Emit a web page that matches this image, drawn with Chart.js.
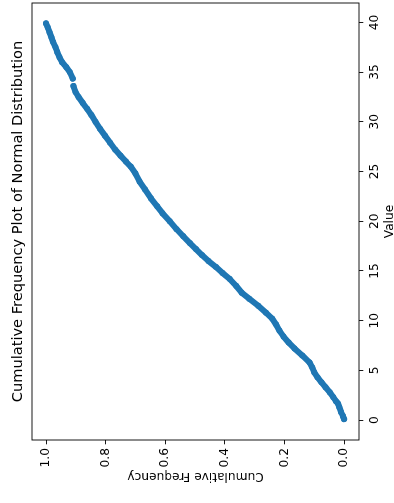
<!DOCTYPE html>
<html>
<head>
<meta charset="utf-8">
<script src="https://cdn.jsdelivr.net/npm/chart.js@4.4.0/dist/chart.umd.min.js"></script>
<style>
  html, body { margin: 0; padding: 0; background: #fff; overflow: hidden; }
  body { width: 394px; height: 503px; position: relative; }
  /* the matplotlib figure was rotated a quarter turn counter-clockwise */
  #wrap {
    position: absolute; left: 0; top: 0;
    width: 503px; height: 394px;
    transform-origin: 0 0;
    transform: translateY(503px) rotate(-90deg);
  }
</style>
</head>
<body>
<div id="wrap"><canvas id="chart" width="503" height="394"></canvas></div>
<script>
// sorted sample values and their cumulative frequency (null = gap in the run)
const VALUES = [
  0.1, 0.4, 0.8, 1.3, 1.7, 1.9, 2.3, 2.8, 3.3, 3.8, 4.3, 4.8, 5.3, 5.8,
  6.5, 7.2, 7.8, 8.4, 9.0, 9.6, 10.2, 10.8, 11.5, 12.2, 12.8, 13.5, 14.2,
  14.8, 15.4, 16.0, 16.6, 17.2, 17.8, 18.5, 19.2, 20.0, 20.8, 21.5, 22.3,
  23.2, 24.0, 24.8, 25.5, 26.0, 26.6, 27.2, 27.9, 28.6, 29.3, 30.0, 30.7,
  31.3, 31.9, 32.5, 33.0, 33.6, null,
  34.35, 35.0, 35.5, 36.0, 36.5, 37.0, 37.5, 38.0, 38.5, 39.0, 39.5, 39.9
];
const CUM_FREQ = [
  0.000, 0.004, 0.010, 0.016, 0.021, 0.027, 0.036, 0.048, 0.062, 0.076, 0.089, 0.100, 0.107, 0.116,
  0.140, 0.166, 0.186, 0.203, 0.217, 0.228, 0.241, 0.262, 0.288, 0.318, 0.343, 0.362, 0.384,
  0.408, 0.430, 0.455, 0.477, 0.497, 0.517, 0.540, 0.562, 0.585, 0.609, 0.627, 0.648,
  0.668, 0.686, 0.700, 0.716, 0.732, 0.750, 0.768, 0.785, 0.802, 0.819, 0.834, 0.848,
  0.862, 0.877, 0.891, 0.901, 0.908, null,
  0.910, 0.920, 0.932, 0.946, 0.955, 0.962, 0.968, 0.976, 0.982, 0.988, 0.994, 1.000
];
const VALUE_TICKS = [0, 5, 10, 15, 20, 25, 30, 35, 40];
const FREQ_TICKS = [0.0, 0.2, 0.4, 0.6, 0.8, 1.0];

const TITLE = 'Cumulative Frequency Plot of Normal Distribution';
const BLUE = '#1f77b4';
const FONT = '"DejaVu Sans", sans-serif';
const TICK_PX = 12.2;

// full box round the plot + title centred over the axes
const framePlugin = {
  id: 'frame',
  afterDraw(chart) {
    const { ctx, chartArea: a } = chart;
    ctx.save();
    ctx.strokeStyle = '#000';
    ctx.lineWidth = 0.9;
    ctx.strokeRect(a.left, a.top, a.right - a.left, a.bottom - a.top);
    ctx.fillStyle = '#000';
    ctx.font = '14.6px ' + FONT;
    ctx.textAlign = 'center';
    ctx.textBaseline = 'alphabetic';
    ctx.fillText(TITLE, (a.left + a.right) / 2, 22);
    ctx.restore();
  }
};

const points = VALUES.map((v, i) => ({ x: v, y: CUM_FREQ[i] }));

const tickGrid = { display: true, drawOnChartArea: false, drawTicks: true, tickLength: 4.3, tickColor: '#000', tickWidth: 0.9 };

new Chart(document.getElementById('chart'), {
  type: 'scatter',
  data: {
    datasets: [{
      data: points,
      showLine: true,
      spanGaps: false,
      borderColor: BLUE,
      backgroundColor: BLUE,
      borderWidth: 6,
      borderCapStyle: 'round',
      borderJoinStyle: 'round',
      pointRadius: 3,
      pointBorderWidth: 0,
      pointHoverRadius: 3
    }]
  },
  options: {
    responsive: false,
    devicePixelRatio: 1,
    animation: false,
    layout: { padding: { top: 32, right: 0.5, bottom: 0, left: 0 } },
    plugins: { legend: { display: false }, tooltip: { enabled: false }, title: { display: false } },
    scales: {
      x: {
        type: 'linear',
        min: -2.0, max: 41.95,
        afterBuildTicks: s => { s.ticks = VALUE_TICKS.map(v => ({ value: v })); },
        afterFit: s => { s.height = 35; },
        grid: tickGrid,
        border: { display: false },
        ticks: { color: '#000', padding: 4.0, maxRotation: 0, autoSkip: false, font: { family: FONT, size: TICK_PX }, callback: v => String(v) },
        title: { display: true, text: 'Value', color: '#000', font: { family: FONT, size: TICK_PX }, padding: { top: 0, bottom: -2.9 } }
      },
      y: {
        type: 'linear',
        min: -0.050, max: 1.047,
        afterBuildTicks: s => { s.ticks = FREQ_TICKS.map(v => ({ value: v })); },
        afterFit: s => { s.width = 63; },
        grid: tickGrid,
        border: { display: false },
        ticks: { color: '#000', padding: 3.7, autoSkip: false, font: { family: FONT, size: TICK_PX }, callback: v => v.toFixed(1) },
        title: { display: true, text: 'Cumulative Frequency', color: '#000', font: { family: FONT, size: TICK_PX }, padding: { top: 20, bottom: 0 } }
      }
    }
  },
  plugins: [framePlugin]
});
</script>
</body>
</html>
